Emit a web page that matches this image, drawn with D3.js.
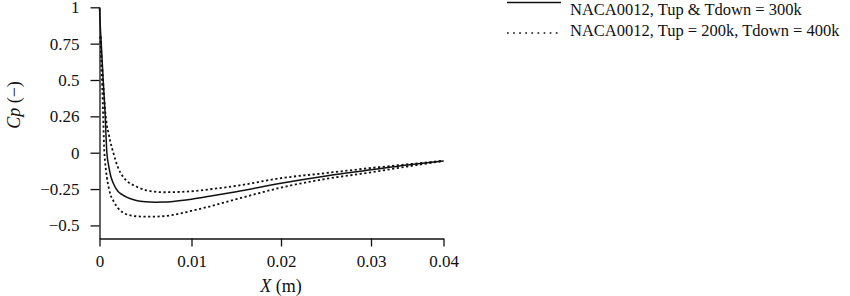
<!DOCTYPE html>
<html>
<head>
<meta charset="utf-8">
<script src="https://cdn.jsdelivr.net/npm/d3@7"></script>
<style>
  body { margin: 0; background: #fff; }
  svg text { font-family: "Liberation Serif", "Times New Roman", serif; fill: #111; }
  .axis path, .axis line { stroke: #111; stroke-width: 1.3; }
  .axis text { font-size: 17px; }
</style>
</head>
<body>
<div id="chart"></div>
<script>
// DATA
let xs = [0, 0.0001, 0.0002, 0.0003, 0.0004, 0.0005, 0.0006, 0.0007, 0.0008, 0.001, 0.0012, 0.0015,
          0.002, 0.0025, 0.003, 0.004, 0.005, 0.006, 0.007, 0.008, 0.01, 0.012, 0.015, 0.02,
          0.025, 0.03, 0.035, 0.04]

// Tup & Tdown = 300k
let cp_same = [1.0, 0.85, 0.74, 0.62, 0.5, 0.39, 0.28, 0.13, 0.0, -0.09, -0.155, -0.21,
               -0.265, -0.29, -0.307, -0.328, -0.337, -0.34, -0.339, -0.335, -0.32, -0.3, -0.268, -0.21,
               -0.16, -0.118, -0.085, -0.057]

// Tup = 200k, Tdown = 400k (two dotted curves)
let cp_upper = [null, 0.8, 0.68, 0.58, 0.48, 0.39, 0.3, 0.24, 0.19, 0.13, 0.07, 0.0,
                -0.1, -0.16, -0.195, -0.232, -0.257, -0.268, -0.272, -0.271, -0.265, -0.252, -0.228, -0.175,
                -0.14, -0.105, -0.08, -0.055]
let cp_lower = [null, 0.8, 0.62, 0.45, 0.25, 0.04, -0.06, -0.12, -0.17, -0.24, -0.29, -0.33,
                -0.38, -0.41, -0.425, -0.437, -0.44, -0.44, -0.436, -0.428, -0.40, -0.37, -0.32, -0.24,
                -0.18, -0.135, -0.095, -0.057]

let x_ticks = [0, 0.01, 0.02, 0.03, 0.04]
let x_tick_labels = ["0", "0.01", "0.02", "0.03", "0.04"]
let y_ticks = [1, 0.75, 0.5, 0.25, 0, -0.25, -0.5]
let y_tick_labels = ["1", "0.75", "0.5", "0.26", "0", "\u22120.25", "\u22120.5"]

let legend_labels = ["NACA0012, Tup & Tdown = 300k", "NACA0012, Tup = 200k, Tdown = 400k"]

// CHART AREA
let width = 850, height = 296

let svg = d3.select("#chart").append("svg")
    .attr("width", width)
    .attr("height", height)

// SCALES
let x_scale = d3.scaleLinear()
    .domain(x_ticks)
    .range([99.5, 191.5, 281, 371, 443.5])

let y_scale = d3.scaleLinear()
    .domain([-0.59, 1])
    .range([238.5, 7.3])

// AXIS
let xAxis = d3.axisBottom(x_scale)
    .tickValues(x_ticks)
    .tickFormat((d, i) => x_tick_labels[i])
    .tickSizeOuter(0)
    .tickSizeInner(8)
    .tickPadding(8)

let yAxis = d3.axisLeft(y_scale)
    .tickValues(y_ticks)
    .tickFormat((d, i) => y_tick_labels[i])
    .tickSizeOuter(0)
    .tickSizeInner(9)
    .tickPadding(11)

svg.append("g")
    .attr("class", "x-axis axis")
    .attr("transform", "translate(0," + y_scale(-0.59) + ")")
    .call(xAxis)

svg.append("g")
    .attr("class", "y-axis axis")
    .attr("transform", "translate(" + x_scale(0) + ",0)")
    .call(yAxis)

// LINES
let series = [
    {values: cp_same, dash: null},
    {values: cp_upper, dash: "2.2,2.5"},
    {values: cp_lower, dash: "2.2,2.5"}
]

let line = d3.line()
    .defined(d => d[1] !== null)
    .x(d => x_scale(d[0]))
    .y(d => y_scale(d[1]))
    .curve(d3.curveMonotoneX)

svg.selectAll(".curve")
    .data(series)
    .enter()
    .append("path")
    .attr("class", "curve")
    .attr("d", s => line(xs.map((x, i) => [x, s.values[i]])))
    .attr("fill", "none")
    .attr("stroke", "#111")
    .attr("stroke-width", s => s.dash ? 1.8 : 1.5)
    .attr("stroke-dasharray", s => s.dash)

// AXIS TITLES
let yTitle = svg.append("text")
    .attr("transform", "translate(20,105) rotate(-90)")
    .attr("text-anchor", "middle")
    .style("font-size", "18px")
yTitle.append("tspan").style("font-style", "italic").text("Cp")
yTitle.append("tspan").text(" (\u2212)")

let xTitle = svg.append("text")
    .attr("x", 281)
    .attr("y", 292)
    .attr("text-anchor", "middle")
    .style("font-size", "18px")
xTitle.append("tspan").style("font-style", "italic").text("X")
xTitle.append("tspan").text(" (m)")

// LEGEND
let legend = svg.append("g").attr("class", "legend")

legend.append("line")
    .attr("x1", 507).attr("x2", 561)
    .attr("y1", 2.5).attr("y2", 2.5)
    .attr("stroke", "#111")
    .attr("stroke-width", 1.5)

legend.append("line")
    .attr("x1", 507).attr("x2", 561)
    .attr("y1", 33).attr("y2", 33)
    .attr("stroke", "#111")
    .attr("stroke-width", 1.7)
    .attr("stroke-dasharray", "1.7,4.4")

legend.selectAll(".legend-label")
    .data(legend_labels)
    .enter()
    .append("text")
    .attr("class", "legend-label")
    .attr("x", 570)
    .attr("y", (d, i) => i === 0 ? 15 : 36)
    .style("font-size", "16.5px")
    .text(d => d)
</script>
</body>
</html>
